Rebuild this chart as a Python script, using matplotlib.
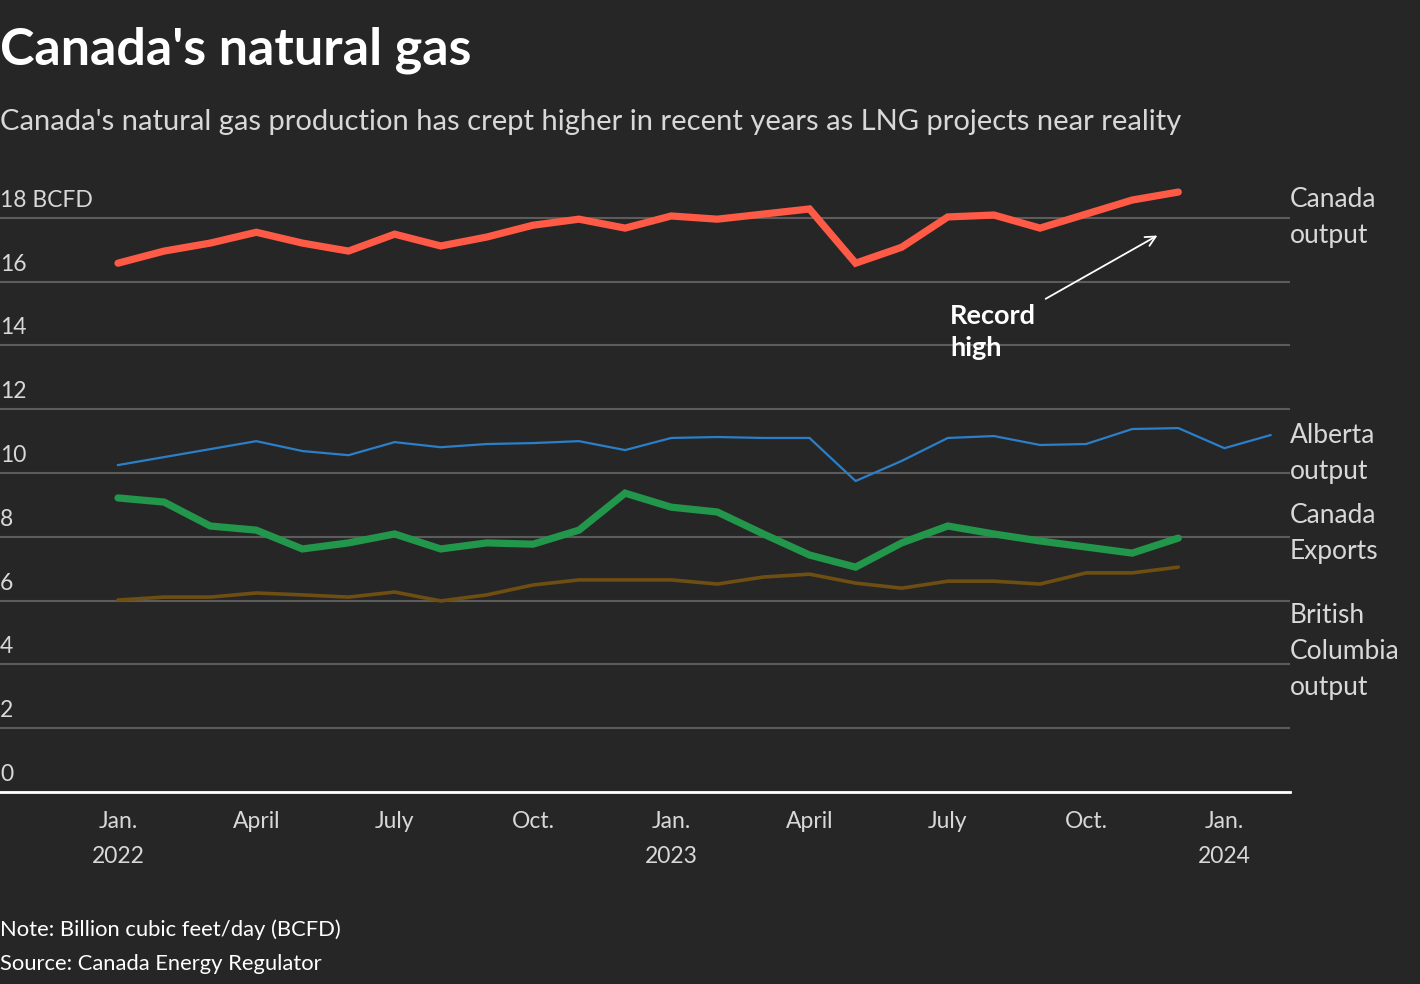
import matplotlib
matplotlib.use("Agg")
import matplotlib.pyplot as plt
import matplotlib.transforms as mtransforms

# --- данные (BCFD, помесячно с янв. 2022) ---
canada_output = [16.58, 16.96, 17.21, 17.55, 17.21, 16.96, 17.49, 17.12, 17.40, 17.77,
                 17.96, 17.68, 18.06, 17.96, 18.12, 18.28, 16.58, 17.08, 18.03, 18.09,
                 17.68, 18.12, 18.56, 18.81]
alberta_output = [10.25, 10.50, 10.75, 11.00, 10.69, 10.56, 10.97, 10.81, 10.91, 10.94,
                  11.00, 10.72, 11.10, 11.13, 11.10, 11.10, 9.75, 10.38, 11.10, 11.16,
                  10.88, 10.91, 11.38, 11.41, 10.78, 11.19]
canada_exports = [9.22, 9.09, 8.34, 8.21, 7.62, 7.81, 8.09, 7.62, 7.81, 7.77,
                  8.21, 9.37, 8.93, 8.78, 8.09, 7.43, 7.05, 7.81, 8.34, 8.09,
                  7.87, 7.68, 7.49, 7.96]
bc_output = [6.02, 6.11, 6.11, 6.24, 6.18, 6.11, 6.27, 5.99, 6.18, 6.49,
             6.65, 6.65, 6.65, 6.52, 6.74, 6.83, 6.55, 6.39, 6.61, 6.61,
             6.52, 6.87, 6.87, 7.05]

x_ticks = [0, 3, 6, 9, 12, 15, 18, 21, 24]
x_labels = ["Jan.\n2022", "April", "July", "Oct.", "Jan.\n2023", "April", "July", "Oct.", "Jan.\n2024"]
y_ticks = [0, 2, 4, 6, 8, 10, 12, 14, 16, 18]
y_labels = ["0", "2", "4", "6", "8", "10", "12", "14", "16", "18 BCFD"]

BG = "#262626"
FG = "#d8d8d8"
plt.rcParams["font.family"] = ["Lato", "DejaVu Sans"]

fig = plt.figure(figsize=(14.2, 9.84), dpi=100, facecolor=BG)
ax = fig.add_axes([0.0, 1 - 792 / 984, 1290 / 1420, (792 - 186) / 984])
ax.set_facecolor(BG)


def months(vals):
    return list(range(len(vals)))


ax.plot(months(bc_output), bc_output, color="#6e4e12", lw=2.6, solid_capstyle="round", zorder=3)
ax.plot(months(alberta_output), alberta_output, color="#2b7fc9", lw=1.6, zorder=3)
ax.plot(months(canada_exports), canada_exports, color="#22964a", lw=5.2,
        solid_capstyle="round", solid_joinstyle="miter", zorder=4)
ax.plot(months(canada_output), canada_output, color="#ff5a46", lw=5.2,
        solid_capstyle="round", solid_joinstyle="miter", zorder=5)

ax.set_xlim(-118 / 46.1, 1172 / 46.1)
ax.set_ylim(0, 19)

for s in ["top", "right", "left"]:
    ax.spines[s].set_visible(False)
ax.spines["bottom"].set_color("white")
ax.spines["bottom"].set_linewidth(2)

ax.set_yticks(y_ticks)
ax.yaxis.grid(True, color="#5c5c5c", lw=1.5)
ax.tick_params(axis="y", length=0, labelleft=False)
ax.set_axisbelow(True)
blend = mtransforms.blended_transform_factory(ax.transAxes, ax.transData)
for v, lab in zip(y_ticks, y_labels):
    ax.text(0.0, v + 0.22, lab, transform=blend, ha="left", va="bottom",
            fontsize=16.5, color=FG)

ax.set_xticks(x_ticks)
ax.set_xticklabels(x_labels, fontsize=16.5, color=FG, linespacing=1.8)
ax.tick_params(axis="x", length=0, pad=14)

# подписи серий справа
side = [("Canada\noutput", 18.0), ("Alberta\noutput", 10.6),
        ("Canada\nExports", 8.1), ("British\nColumbia\noutput", 4.4)]
for lab, v in side:
    ax.text(1.0, v, lab, transform=blend, ha="left", va="center", fontsize=19,
            color=FG, linespacing=1.55, clip_on=False)

# аннотация рекорда
ax.annotate("", xy=(22.6, 17.49), xytext=(20.07, 15.42),
            arrowprops=dict(arrowstyle="->", color="white", lw=1.3, mutation_scale=18))
ax.text(18.05, 14.42, "Record\nhigh", ha="left", va="center", fontsize=19.5,
        color="white", fontweight="bold", linespacing=1.4)

fig.text(0.0, 1 - 50 / 984, "Canada's natural gas", ha="left", va="center",
         fontsize=37.5, fontweight="bold", color="white")
fig.text(0.0, 1 - 122 / 984,
         "Canada's natural gas production has crept higher in recent years as LNG projects near reality",
         ha="left", va="center", fontsize=21, color=FG)
fig.text(0.0, 1 - 930 / 984, "Note: Billion cubic feet/day (BCFD)", ha="left", va="center",
         fontsize=15.8, color="white")
fig.text(0.0, 1 - 964 / 984, "Source: Canada Energy Regulator", ha="left", va="center",
         fontsize=15.8, color="white")

fig.savefig("out.png", dpi=100, facecolor=BG)
